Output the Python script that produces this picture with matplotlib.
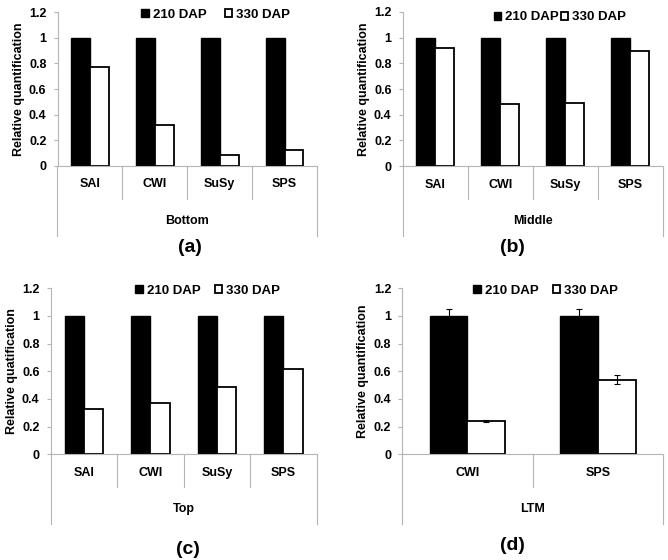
import numpy as np
import matplotlib.pyplot as plt
from matplotlib.transforms import blended_transform_factory

plt.rcParams['font.family'] = ['Liberation Sans', 'DejaVu Sans']

# data for the four panels
genes4 = ['SAI', 'CWI', 'SuSy', 'SPS']
genes2 = ['CWI', 'SPS']

bottom_210 = [1, 1, 1, 1]
bottom_330 = [0.77, 0.32, 0.08, 0.12]
middle_210 = [1, 1, 1, 1]
middle_330 = [0.92, 0.48, 0.49, 0.90]
top_210 = [1, 1, 1, 1]
top_330 = [0.33, 0.37, 0.49, 0.62]
ltm_210 = [1, 1]
ltm_330 = [0.24, 0.54]
ltm_210_err = [0.05, 0.05]
ltm_330_err = [0.01, 0.03]

W, H = 668, 560
fig = plt.figure(figsize=(W / 100, H / 100), dpi=100)

grey = '#b5b5b5'
fs = 9


def panel(box, cats, v210, v330, group, ylabel, leg_x, leg_y, colsp,
          err210=None, err330=None):
    x0, y0, x1, y1 = box  # pixel box of the plot area
    ax = fig.add_axes([x0 / W, 1 - y1 / H, (x1 - x0) / W, (y1 - y0) / H])
    hpx = y1 - y0
    x = np.arange(len(cats))
    w = 0.29
    ax.bar(x - w / 2, v210, w, color='black', edgecolor='black',
           label='210 DAP', yerr=err210,
           error_kw=dict(ecolor='black', elinewidth=0.8, capsize=2.5, capthick=0.8))
    ax.bar(x + w / 2, v330, w, color='white', edgecolor='black',
           linewidth=1.3, label='330 DAP', yerr=err330,
           error_kw=dict(ecolor='black', elinewidth=0.8, capsize=2.5, capthick=0.8))
    ax.set_xlim(-0.5, len(cats) - 0.5)
    ax.set_ylim(0, 1.2)
    ax.set_yticks([0, 0.2, 0.4, 0.6, 0.8, 1, 1.2])
    ax.set_yticklabels(['0', '0.2', '0.4', '0.6', '0.8', '1', '1.2'],
                       fontsize=fs, fontweight='bold')
    ax.tick_params(axis='y', length=3, color=grey, pad=5)
    ax.set_xticks(x)
    ax.set_xticklabels(cats, fontsize=fs, fontweight='bold')
    ax.tick_params(axis='x', length=0, pad=9)
    for s in ['top', 'right']:
        ax.spines[s].set_visible(False)
    ax.spines['left'].set_color(grey)
    ax.spines['bottom'].set_color(grey)
    ax.spines['left'].set_linewidth(0.8)
    ax.spines['bottom'].set_linewidth(0.8)
    ax.set_ylabel(ylabel, fontsize=fs, fontweight='bold', labelpad=3)

    # two-level category axis lines
    tr = blended_transform_factory(ax.transData, ax.transAxes)
    for k in range(len(cats) - 1):
        ax.plot([k + 0.5, k + 0.5], [0, -33 / hpx], color=grey, lw=0.8,
                transform=tr, clip_on=False)
    for xe in [-0.5, len(cats) - 0.5]:
        ax.plot([xe, xe], [0, -70 / hpx], color=grey, lw=0.8,
                transform=tr, clip_on=False)
    ax.text(0.5, -55 / hpx, group, transform=ax.transAxes, ha='center',
            va='center', fontsize=fs, fontweight='bold')

    ax.legend(loc='center', bbox_to_anchor=(leg_x, leg_y), ncol=2,
              frameon=False, prop={'weight': 'bold', 'size': 9.5},
              handlelength=0.55, handleheight=0.55, handletextpad=0.3,
              columnspacing=colsp, borderaxespad=0, borderpad=0)
    return ax


panel((57.5, 12.3, 317, 165.7), genes4, bottom_210, bottom_330, 'Bottom',
      'Relative quantification', 0.61, 0.985, 1.4)
panel((402.7, 12, 662.7, 166), genes4, middle_210, middle_330, 'Middle',
      'Relative quantification', 0.605, 0.965, 0.2)
panel((50.7, 288.3, 316.7, 454.3), genes4, top_210, top_330, 'Top',
      'Relative quatification', 0.59, 0.985, 1.1)
panel((402.3, 288.3, 663, 454.3), genes2, ltm_210, ltm_330, 'LTM',
      'Relative quantification', 0.55, 0.985, 1.1,
      err210=ltm_210_err, err330=ltm_330_err)

for lab, px, py in [('(a)', 190, 247), ('(b)', 512, 247),
                    ('(c)', 188, 549), ('(d)', 512, 546)]:
    fig.text(px / W, 1 - py / H, lab, ha='center', va='center', fontsize=14,
             fontweight='bold')

fig.savefig('out.png', dpi=100)
